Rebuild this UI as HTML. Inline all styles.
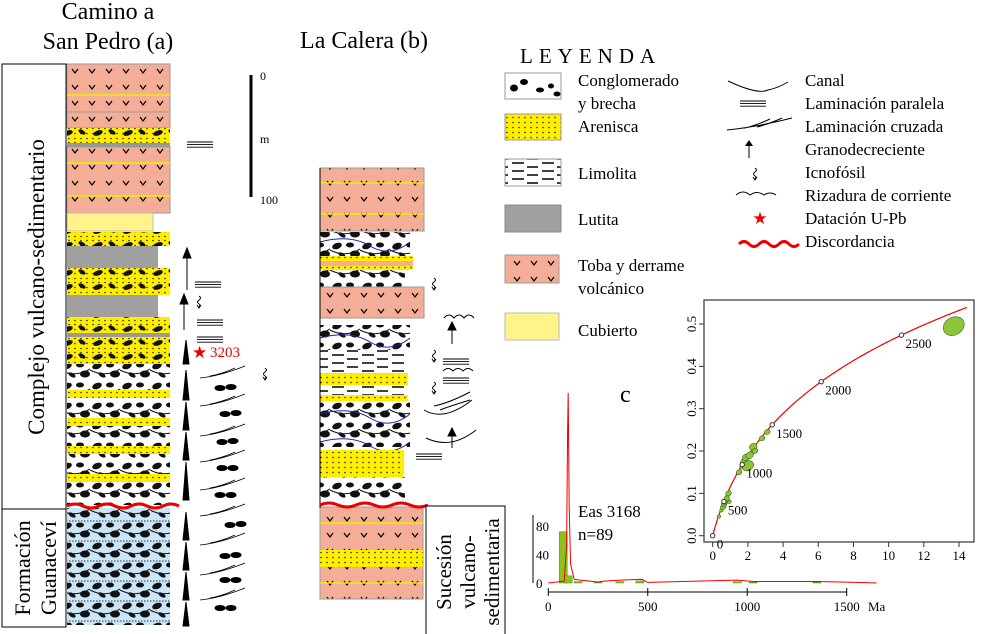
<!DOCTYPE html>
<html><head><meta charset="utf-8"><style>
html,body{margin:0;padding:0;background:#fff;}
svg{display:block;font-family:"Liberation Serif",serif;}
</style></head><body>
<svg id="fig" width="986" height="634" viewBox="0 0 986 634" xmlns="http://www.w3.org/2000/svg">
<defs>
<pattern id="pToba" width="17" height="16" patternUnits="userSpaceOnUse"><rect width="17" height="16" fill="#f4ae98"/><path d="M4 5 L7 9 L10 5" stroke="#000" stroke-width="1.2" fill="none"/></pattern>
<pattern id="pSand" width="6" height="5" patternUnits="userSpaceOnUse"><rect width="6" height="5" fill="#ffee00"/><circle cx="3" cy="2.5" r="0.8" fill="#222"/></pattern>
<pattern id="pSandC" width="30" height="14" patternUnits="userSpaceOnUse"><rect width="30" height="14" fill="url(#pSand)"/><ellipse cx="8" cy="7" rx="5" ry="2.5" fill="#111" transform="rotate(-20 8 7)"/><ellipse cx="22" cy="6" rx="4" ry="2" fill="#111" transform="rotate(30 22 6)"/></pattern>
<pattern id="pCong" width="30" height="20" patternUnits="userSpaceOnUse"><rect width="30" height="20" fill="#fff"/><ellipse cx="7" cy="6" rx="5" ry="3" fill="#111" transform="rotate(-20 7 6)"/><ellipse cx="20" cy="5" rx="4" ry="2.5" fill="#111"/><ellipse cx="25" cy="14" rx="5" ry="3.5" fill="#111"/><ellipse cx="12" cy="15" rx="4" ry="2" fill="#111" transform="rotate(30 12 15)"/><path d="M0 10 Q15 18 30 9" stroke="#111" fill="none"/></pattern>
<pattern id="pCongB" width="30" height="20" patternUnits="userSpaceOnUse"><rect width="30" height="20" fill="#c9e5f6"/><ellipse cx="7" cy="6" rx="5" ry="3" fill="#111" transform="rotate(-20 7 6)"/><ellipse cx="20" cy="5" rx="4" ry="2.5" fill="#111"/><ellipse cx="25" cy="14" rx="5" ry="3.5" fill="#111"/><ellipse cx="12" cy="15" rx="4" ry="2" fill="#111" transform="rotate(30 12 15)"/><path d="M0 10 Q15 18 30 9" stroke="#111" fill="none"/><line x1="0" y1="1" x2="30" y2="1" stroke="#333" stroke-dasharray="1.5 1.5"/></pattern>
<pattern id="pLimo" width="30" height="8" patternUnits="userSpaceOnUse"><rect width="30" height="8" fill="#fff"/><line x1="2" y1="3" x2="14" y2="3" stroke="#000" stroke-width="1.5"/><line x1="17" y1="7" x2="28" y2="7" stroke="#000" stroke-width="1.5"/></pattern>
<g id="icno"><path d="M0 0 q3 2 0 4 q-3 2 0 4 q2 1 0 3 M-2 9 l2 3 l2 -3" stroke="#000" fill="none" stroke-width="1"/></g>
<g id="lam"><path d="M0 0 h26 M0 2.6 h26 M0 5.2 h26" stroke="#000" stroke-width="0.9" fill="none"/></g>
</defs>

<text x="108" y="19" font-size="24" text-anchor="middle">Camino a</text>
<text x="108" y="49" font-size="24" text-anchor="middle">San Pedro (a)</text>
<text x="364" y="48" font-size="24" text-anchor="middle">La Calera (b)</text>

<g><rect x="2" y="64" width="64" height="445" fill="#fff" stroke="#000"/>
<text transform="translate(44,287) rotate(-90)" font-size="23" text-anchor="middle">Complejo vulcano-sedimentario</text></g>
<g><rect x="2" y="509" width="64" height="118" fill="#fff" stroke="#000"/>
<text transform="translate(30,568) rotate(-90)" font-size="22" text-anchor="middle">Formación</text>
<text transform="translate(56,568) rotate(-90)" font-size="22" text-anchor="middle">Guanaceví</text></g>

<g>
<rect x="67" y="64" width="103" height="48" fill="url(#pToba)" stroke="#999"/>
<rect x="67" y="112" width="103" height="16" fill="url(#pToba)" stroke="#999"/>
<rect x="67" y="128" width="103" height="15" fill="url(#pSandC)"/>
<rect x="67" y="143" width="103" height="4" fill="#999"/>
<rect x="67" y="147" width="103" height="66" fill="url(#pToba)" stroke="#999"/>
<line x1="67" y1="95" x2="170" y2="95" stroke="#ee0" stroke-width="1.5"/>
<line x1="67" y1="163" x2="170" y2="163" stroke="#ee0" stroke-width="1.5"/>
<line x1="67" y1="196" x2="170" y2="196" stroke="#ee0" stroke-width="1.5"/>
<rect x="67" y="213" width="86" height="18" fill="#fff38a" stroke="#bbb"/>
<rect x="67" y="232" width="103" height="14" fill="url(#pSandC)"/>
<rect x="67" y="246" width="91" height="22" fill="#a0a0a0"/>
<rect x="67" y="268" width="103" height="27" fill="url(#pSandC)"/>
<rect x="67" y="295" width="91" height="22" fill="#a0a0a0"/>
<rect x="67" y="317" width="103" height="16" fill="url(#pSandC)"/>
<rect x="67" y="333" width="103" height="4" fill="#999"/>
<rect x="67" y="337" width="103" height="27" fill="url(#pSandC)"/>
<rect x="67" y="364" width="103" height="141" fill="url(#pCong)"/>
<rect x="67" y="390" width="103" height="8" fill="url(#pSand)"/>
<rect x="67" y="418" width="103" height="8" fill="url(#pSand)"/>
<rect x="67" y="446" width="103" height="8" fill="url(#pSand)"/>
<rect x="67" y="474" width="103" height="8" fill="url(#pSand)"/>
<rect x="67" y="508" width="103" height="117" fill="url(#pCongB)"/>
<line x1="66" y1="64" x2="66" y2="626" stroke="#000"/>
<path d="M67 506 q8 -4 16 0 t16 0 t16 0 t16 0 t16 0 t16 0 t16 0" stroke="#e00" stroke-width="3" fill="none"/>
</g>
<g stroke="#000" fill="#000">
<line x1="187" y1="290" x2="187" y2="254"/><path d="M183 258 L187 248 L191 258Z"/>
<line x1="184" y1="330" x2="184" y2="300"/><path d="M180 304 L184 294 L188 304Z"/>
<path d="M183 364 L186 340 L189 364Z"/>
<path d="M183 400 L186 370 L189 400Z"/><path d="M183 430 L186 402 L189 430Z"/><path d="M183 460 L186 432 L189 460Z"/><path d="M183 500 L186 462 L189 500Z"/>
<path d="M183 540 L186 512 L189 540Z"/><path d="M183 570 L186 542 L189 570Z"/><path d="M183 600 L186 572 L189 600Z"/><path d="M183 626 L186 602 L189 626Z"/>
<use href="#lam" x="187" y="142"/><use href="#lam" x="195" y="282"/><use href="#lam" x="197" y="320"/><use href="#lam" x="197" y="337"/>
<use href="#icno" x="199" y="296"/><use href="#icno" x="265" y="368"/>
<g fill="none" stroke-width="0.8">
<path d="M200 378 q20 -2 45 -12 M210 376 q12 -2 25 -8"/><path d="M200 406 q20 -2 45 -12 M210 404 q12 -2 25 -8"/><path d="M200 436 q20 -2 45 -12 M210 434 q12 -2 25 -8"/><path d="M200 462 q20 -2 45 -12 M210 460 q12 -2 25 -8"/><path d="M200 490 q20 -2 45 -12 M210 488 q12 -2 25 -8"/>
<path d="M200 516 q20 -2 45 -12 M210 514 q12 -2 25 -8"/><path d="M200 545 q20 -2 45 -12 M210 543 q12 -2 25 -8"/><path d="M200 575 q20 -2 45 -12 M210 573 q12 -2 25 -8"/><path d="M200 600 q20 -2 45 -12 M210 598 q12 -2 25 -8"/></g>
<g><ellipse cx="220" cy="388" rx="5" ry="2.5"/><ellipse cx="231" cy="387" rx="5" ry="2.5"/><ellipse cx="225" cy="414" rx="5" ry="2.5"/><ellipse cx="236" cy="413" rx="5" ry="2.5"/><ellipse cx="222" cy="442" rx="5" ry="2.5"/><ellipse cx="233" cy="441" rx="5" ry="2.5"/><ellipse cx="222" cy="468" rx="5" ry="2.5"/><ellipse cx="233" cy="468" rx="5" ry="2.5"/><ellipse cx="220" cy="495" rx="5" ry="2.5"/><ellipse cx="231" cy="495" rx="5" ry="2.5"/><ellipse cx="230" cy="525" rx="5" ry="2.5"/><ellipse cx="241" cy="524" rx="5" ry="2.5"/><ellipse cx="225" cy="556" rx="5" ry="2.5"/><ellipse cx="236" cy="555" rx="5" ry="2.5"/><ellipse cx="225" cy="580" rx="5" ry="2.5"/><ellipse cx="236" cy="580" rx="5" ry="2.5"/><ellipse cx="220" cy="608" rx="5" ry="2.5"/><ellipse cx="231" cy="608" rx="5" ry="2.5"/></g>
</g>
<g><text x="192" y="358" font-size="17" fill="#e00">★</text><text x="210" y="357" font-size="15" fill="#e00">3203</text></g>

<g><line x1="251" y1="75" x2="251" y2="197" stroke="#000" stroke-width="3"/>
<text x="260" y="80" font-size="12">0</text><text x="260" y="143" font-size="12">m</text><text x="260" y="204" font-size="12">100</text></g>

<g>
<rect x="320" y="168" width="104" height="63" fill="url(#pToba)" stroke="#999"/>
<line x1="320" y1="183" x2="424" y2="183" stroke="#ee0" stroke-width="1.5"/><line x1="320" y1="214" x2="424" y2="214" stroke="#ee0" stroke-width="1.5"/>
<rect x="320" y="232" width="90" height="24" fill="url(#pCong)"/>
<path d="M320 242 q30 -8 50 4 t40 -4" stroke="#22a" fill="none"/>
<rect x="320" y="256" width="93" height="14" fill="url(#pSand)"/>
<rect x="320" y="261" width="93" height="5" fill="#f4ae98"/>
<rect x="320" y="270" width="85" height="17" fill="url(#pCong)"/>
<rect x="320" y="287" width="104" height="31" fill="url(#pToba)" stroke="#999"/>
<rect x="320" y="325" width="90" height="25" fill="url(#pCong)"/>
<path d="M320 338 q30 -8 50 4 t40 -4" stroke="#22a" fill="none"/>
<rect x="320" y="350" width="85" height="23" fill="url(#pLimo)"/>
<rect x="320" y="373" width="88" height="12" fill="url(#pSand)"/>
<rect x="320" y="385" width="85" height="10" fill="url(#pLimo)"/>
<rect x="320" y="395" width="88" height="6" fill="url(#pSand)"/>
<rect x="320" y="402" width="90" height="45" fill="url(#pCong)"/>
<path d="M320 414 q30 -8 50 4 t40 -4 M320 442 q30 -8 50 4 t40 -4" stroke="#22a" fill="none"/>
<rect x="320" y="450" width="84" height="27" fill="url(#pSand)"/>
<rect x="320" y="477" width="85" height="25" fill="url(#pCong)"/>
<rect x="320" y="507" width="103" height="92" fill="url(#pToba)" stroke="#999"/>
<rect x="320" y="550" width="103" height="17" fill="url(#pSand)"/>
<line x1="320" y1="523" x2="423" y2="523" stroke="#ee0" stroke-width="1.5"/><line x1="320" y1="583" x2="423" y2="583" stroke="#ee0" stroke-width="1.5"/>
<line x1="320" y1="168" x2="320" y2="508" stroke="#000"/>
<path d="M320 505 q9 -4 18 0 t18 0 t18 0 t18 0 t18 0 t18 0" stroke="#e00" stroke-width="3" fill="none"/>
</g>
<g stroke="#000" fill="none">
<use href="#icno" x="434" y="278"/>
<path d="M444 318 q5 -6 10 0 q5 -6 10 0 q5 -6 10 0"/>
<line x1="452" y1="344" x2="452" y2="326"/><path d="M448 330 L452 322 L456 330Z" fill="#000"/>
<use href="#icno" x="434" y="350"/>
<use href="#lam" x="443" y="359"/><path d="M443 371 q5 -5 10 0 q5 -5 10 0 q5 -5 10 0"/><use href="#lam" x="443" y="378"/>
<use href="#icno" x="434" y="382"/>
<path d="M424 410 q20 12 48 -10 M434 406 q15 -3 36 -14 M440 410 q10 -4 30 -10"/>
<path d="M426 438 q25 12 50 -8"/><line x1="452" y1="448" x2="452" y2="432"/><path d="M448 436 L452 428 L456 436Z" fill="#000"/>
<use href="#lam" x="416" y="454"/>
</g>
<g><rect x="426" y="506" width="79" height="130" fill="#fff" stroke="#000"/>
<text transform="translate(451,572) rotate(-90)" font-size="21" text-anchor="middle">Sucesión</text>
<text transform="translate(475,572) rotate(-90)" font-size="21" text-anchor="middle">vulcano-</text>
<text transform="translate(499,572) rotate(-90)" font-size="21" text-anchor="middle">sedimentaria</text></g>

<g font-size="17">
<text x="520" y="63" font-size="21" letter-spacing="6">LEYENDA</text>
<rect x="505" y="73" width="56" height="26" fill="#fff" stroke="#999"/><g fill="#000"><ellipse cx="514" cy="88" rx="4" ry="3.5"/><ellipse cx="524" cy="82" rx="4" ry="3"/><ellipse cx="540" cy="90" rx="4" ry="2.5"/><ellipse cx="551" cy="86" rx="3" ry="2.5"/><ellipse cx="557" cy="94" rx="3.5" ry="2.5"/></g>
<text x="578" y="86">Conglomerado</text><text x="578" y="109">y brecha</text>
<rect x="505" y="114" width="56" height="26" fill="url(#pSand)" stroke="#999"/><text x="578" y="132">Arenisca</text>
<rect x="505" y="159" width="56" height="27" fill="url(#pLimo)" stroke="#999"/><text x="578" y="179">Limolita</text>
<rect x="505" y="205" width="56" height="27" fill="#a0a0a0" stroke="#888"/><text x="578" y="225">Lutita</text>
<rect x="505" y="255" width="54" height="28" fill="url(#pToba)" stroke="#999"/><text x="578" y="271">Toba y derrame</text><text x="578" y="294">volcánico</text>
<rect x="505" y="313" width="54" height="27" fill="#fff38a" stroke="#bbb"/><text x="578" y="336">Cubierto</text>
<g stroke="#000" fill="none"><path d="M728 81 q30 14 40 9 q10 -2 20 -8"/><use href="#lam" x="740" y="101"/><path d="M727 130 q30 -3 65 -12 M745 128 q12 -3 25 -9 M757 127 q12 -3 25 -9"/><line x1="749" y1="158" x2="749" y2="145"/><path d="M736 195 q7 -6 14 0 q7 -5 14 0 q6 -4 12 0"/>
<path d="M739 244 q5 -5 10 0 t10 0 t10 0 t10 0 t10 0 t10 0" stroke="#e00" stroke-width="3"/></g>
<path d="M745 146 L749 140 L753 146Z" fill="#000"/>
<use href="#icno" x="755" y="168"/>
<text x="760" y="224" font-size="17" fill="#e00" text-anchor="middle">★</text>
<text x="805" y="86">Canal</text><text x="805" y="109">Laminación paralela</text><text x="805" y="132">Laminación cruzada</text><text x="805" y="155">Granodecreciente</text><text x="805" y="178">Icnofósil</text><text x="805" y="201">Rizadura de corriente</text><text x="805" y="224">Datación U-Pb</text><text x="805" y="247">Discordancia</text>
</g>

<text x="620" y="402" font-size="24">c</text>
<text x="578" y="517" font-size="17">Eas 3168</text>
<text x="578" y="540" font-size="17">n=89</text>

<g id="hist"></g>
<g id="conc"></g>

<script>
const histBinAges = [75, 100, 150, 250, 360, 460, 950, 1030, 1350];
const histCounts = [72, 10, 2, 1, 2, 3, 2, 1, 1];
const histYTicks = [0, 40, 80];
const histXTicks = [0, 500, 1000, 1500];
const pdpAges = [0, 80, 92, 97, 100, 105, 112, 130, 160, 250, 280, 360, 470, 500, 950, 1030, 1350, 1550, 1650];
const pdpVals = [0, 1, 20, 80, 100, 40, 10, 2, 1.5, 0.5, 1, 1.5, 2, 0.3, 1.5, 0.8, 0.8, 0.3, 0];
const concTickAges = [0, 500, 1000, 1500, 2000, 2500];
const concXTicks = [0, 2, 4, 6, 8, 10, 12, 14];
const concYTicks = [0.0, 0.1, 0.2, 0.3, 0.4, 0.5];
const grainX = [0.35, 0.5, 0.6, 0.65, 0.7, 0.8, 0.9, 0.95, 1.5, 1.7, 1.8, 1.9, 2.0, 2.1, 2.3, 2.4, 2.8, 3.1, 13.7];
const grainY = [0.045, 0.06, 0.068, 0.075, 0.08, 0.088, 0.1, 0.08, 0.15, 0.165, 0.175, 0.185, 0.165, 0.19, 0.21, 0.2, 0.23, 0.245, 0.495];
const grainRx = [2, 2, 3, 3, 3, 3, 3, 2, 3, 3, 4, 4, 6, 4, 4, 3, 3, 3, 11];

const NS = 'http://www.w3.org/2000/svg';
function mk(parent, tag, attrs, txt) {
  const e = document.createElementNS(NS, tag);
  for (const k in attrs) e.setAttribute(k, attrs[k]);
  if (txt !== undefined) e.textContent = txt;
  parent.appendChild(e);
  return e;
}
const hx = a => 548.3 + a * (846.7 - 548.3) / 1500;
const hy = c => 583 - c * (583 - 526) / 80;
const py = v => 583 - v * (583 - 393) / 100;
const H = document.getElementById('hist');
mk(H, 'line', {x1: 533, y1: 515, x2: 533, y2: 583, stroke: '#000'});
histYTicks.forEach(t => {
  const tk = mk(H, 'text', {x: 536, y: hy(t) + 5, 'font-size': 13}, String(t));
  
  
});
mk(H, 'line', {x1: hx(0), y1: 592, x2: hx(1500), y2: 592, stroke: '#000'});
histXTicks.forEach(t => {
  mk(H, 'line', {x1: hx(t), y1: 588, x2: hx(t), y2: 596, stroke: '#000'});
  const tk = mk(H, 'text', {x: hx(t), y: 611, 'font-size': 13, 'text-anchor': 'middle'}, String(t));
  
  
});
mk(H, 'text', {x: 868, y: 611, 'font-size': 13}, 'Ma');
histBinAges.forEach((a, i) => {
  const r = mk(H, 'rect', {x: hx(a) - 4, y: hy(histCounts[i]), width: 8, height: 583 - hy(histCounts[i]), fill: '#8cc21c', stroke: '#5a8a10', 'stroke-width': 0.5});
  
  
});
const pdp = mk(H, 'polyline', {points: pdpAges.map((a, i) => hx(a) + ',' + py(pdpVals[i])).join(' '), fill: 'none', stroke: '#e00', 'stroke-width': 1});



const cx = v => 712.7 + v * (959 - 712.7) / 14;
const cy = v => 535.7 - v * (535.7 - 324) / 0.5;
const C = document.getElementById('conc');
mk(C, 'rect', {x: 704, y: 300, width: 270, height: 242, fill: 'none', stroke: '#333', 'stroke-width': 1.2});
concXTicks.forEach(t => {
  mk(C, 'line', {x1: cx(t), y1: 542, x2: cx(t), y2: 547, stroke: '#333'});
  const tk = mk(C, 'text', {x: cx(t), y: 560, 'font-size': 13, 'text-anchor': 'middle'}, String(t));
  
  
});
concYTicks.forEach(t => {
  mk(C, 'line', {x1: 699, y1: cy(t), x2: 704, y2: cy(t), stroke: '#333'});
  const tk = mk(C, 'text', {x: 0, y: 0, 'font-size': 13, 'text-anchor': 'middle', transform: 'translate(696,' + cy(t) + ') rotate(-90)'}, t.toFixed(1));
  
  
});
const xl = mk(C, 'text', {x: 842, y: 577, 'font-size': 16, 'text-anchor': 'middle'});
xl.innerHTML = '<tspan font-size="10" dy="-6">207</tspan><tspan dy="6">Pb/</tspan><tspan font-size="10" dy="-6">235</tspan><tspan dy="6">U</tspan>';


const yl = mk(C, 'text', {x: 0, y: 0, 'font-size': 16, 'text-anchor': 'middle', transform: 'translate(682,420) rotate(-90)'});
yl.innerHTML = '<tspan font-size="10" dy="-6">206</tspan><tspan dy="6">Pb/</tspan><tspan font-size="10" dy="-6">238</tspan><tspan dy="6">U</tspan>';


const l235 = 9.8485e-10, l238 = 1.55125e-10;
let pts = [];
for (let t = 0; t <= 2780e6; t += 20e6) pts.push(cx(Math.exp(l235 * t) - 1) + ',' + cy(Math.exp(l238 * t) - 1));
const cc = mk(C, 'polyline', {points: pts.join(' '), fill: 'none', stroke: '#e00', 'stroke-width': 1.2});


grainX.forEach((v, i) => {
  const el = mk(C, 'ellipse', {cx: cx(v), cy: cy(grainY[i]), rx: grainRx[i], ry: grainRx[i] * 0.8, fill: '#8cc43c', stroke: '#3a6a10', 'stroke-width': 0.6, transform: 'rotate(-30 ' + cx(v) + ' ' + cy(grainY[i]) + ')'});
  
  
});
concTickAges.forEach(a => {
  const t = a * 1e6, X = cx(Math.exp(l235 * t) - 1), Y = cy(Math.exp(l238 * t) - 1);
  mk(C, 'circle', {cx: X, cy: Y, r: 2.2, fill: '#fff', stroke: '#333'});
  const lb = mk(C, 'text', {x: X + 4, y: Y + 13, 'font-size': 13}, String(a));
  
  
});
</script>
</svg>
</body></html>
